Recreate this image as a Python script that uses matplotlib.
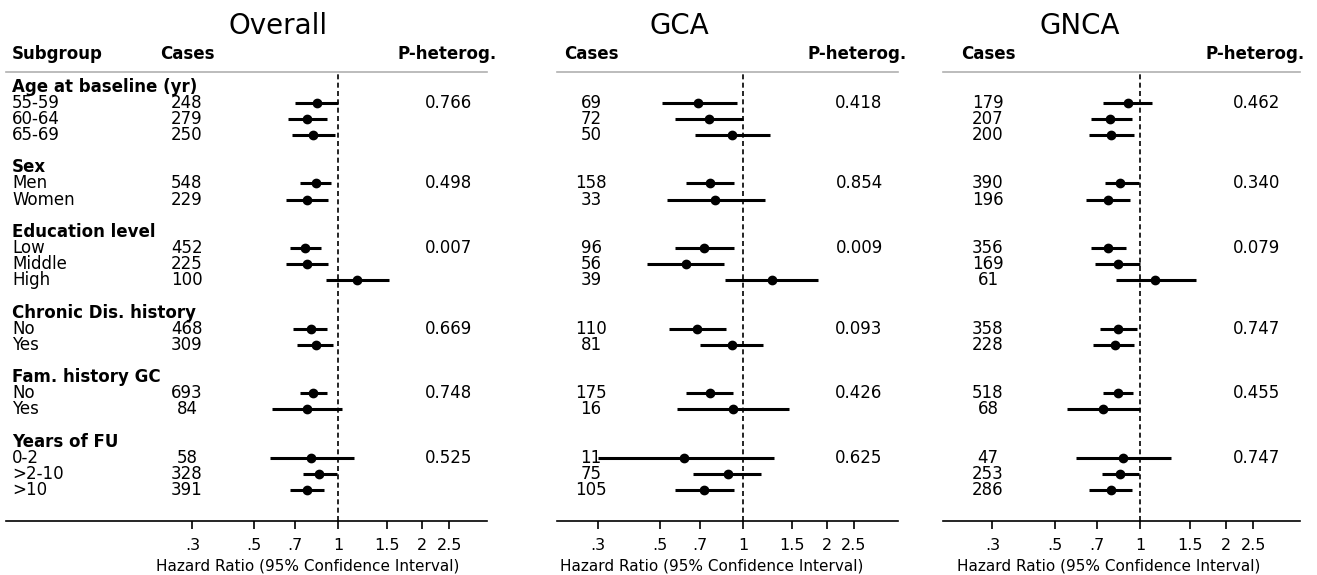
#Forest plots - subgroup hazard ratios (Overall, GCA, GNCA)

import numpy as np
import matplotlib.pyplot as plt
import matplotlib.transforms as mtransforms

group_names = ["Age at baseline (yr)", "Sex", "Education level",
               "Chronic Dis. history", "Fam. history GC", "Years of FU"]
group_levels = [["55-59", "60-64", "65-69"], ["Men", "Women"], ["Low", "Middle", "High"],
                ["No", "Yes"], ["No", "Yes"], ["0-2", ">2-10", ">10"]]

overall_cases = [248, 279, 250, 548, 229, 452, 225, 100, 468, 309, 693, 84, 58, 328, 391]
overall_hr = [0.84, 0.77, 0.81, 0.83, 0.77, 0.76, 0.77, 1.17, 0.80, 0.83, 0.81, 0.77, 0.80, 0.85, 0.77]
overall_lo = [0.70, 0.66, 0.68, 0.73, 0.65, 0.67, 0.65, 0.90, 0.69, 0.71, 0.73, 0.58, 0.57, 0.75, 0.67]
overall_hi = [1.00, 0.91, 0.97, 0.94, 0.92, 0.87, 0.92, 1.52, 0.91, 0.96, 0.91, 1.03, 1.14, 0.99, 0.89]
overall_p = ["0.766", "0.498", "0.007", "0.669", "0.748", "0.525"]

gca_cases = [69, 72, 50, 158, 33, 96, 56, 39, 110, 81, 175, 16, 11, 75, 105]
gca_hr = [0.69, 0.75, 0.91, 0.76, 0.79, 0.72, 0.62, 1.27, 0.68, 0.91, 0.76, 0.92, 0.61, 0.88, 0.72]
gca_lo = [0.51, 0.57, 0.67, 0.62, 0.53, 0.57, 0.45, 0.86, 0.54, 0.70, 0.62, 0.58, 0.30, 0.66, 0.57]
gca_hi = [0.95, 1.00, 1.25, 0.93, 1.20, 0.93, 0.85, 1.86, 0.87, 1.18, 0.92, 1.46, 1.29, 1.16, 0.93]
gca_p = ["0.418", "0.854", "0.009", "0.093", "0.426", "0.625"]

gnca_cases = [179, 207, 200, 390, 196, 356, 169, 61, 358, 228, 518, 68, 47, 253, 286]
gnca_hr = [0.90, 0.78, 0.79, 0.85, 0.77, 0.77, 0.83, 1.13, 0.83, 0.81, 0.83, 0.74, 0.87, 0.85, 0.79]
gnca_lo = [0.74, 0.67, 0.66, 0.75, 0.64, 0.67, 0.69, 0.82, 0.72, 0.68, 0.74, 0.55, 0.59, 0.73, 0.66]
gnca_hi = [1.10, 0.93, 0.95, 0.99, 0.92, 0.89, 1.00, 1.57, 0.97, 0.95, 0.94, 1.00, 1.28, 0.99, 0.93]
gnca_p = ["0.462", "0.340", "0.079", "0.747", "0.455", "0.747"]

panel_titles = ["Overall", "GCA", "GNCA"]
tick_vals = [0.3, 0.5, 0.7, 1, 1.5, 2, 2.5]
tick_labels = [".3", ".5", ".7", "1", "1.5", "2", "2.5"]

# row index of each group header and of each subgroup line
header_rows = []
level_rows = []
r = 0
for levels in group_levels:
    header_rows.append(r)
    for k in range(len(levels)):
        level_rows.append(r + 1 + k)
    r += len(levels) + 2
level_rows = np.array(level_rows)

W, H = 1317, 575
fig = plt.figure(figsize=(W / 100, H / 100), dpi=100)

# panel layout in pixels: axes left/right, x-limits, text columns, title & xlabel centres
panels = [
    dict(x0=6, x1=487, xlim=(0.0645, 3.41), cases_x=187, p_x=449, title_x=278, xlab_x=308,
         cases=overall_cases, hr=overall_hr, lo=overall_lo, hi=overall_hi, p=overall_p),
    dict(x0=557, x1=898, xlim=(0.214, 3.60), cases_x=591, p_x=859, title_x=679, xlab_x=712,
         cases=gca_cases, hr=gca_hr, lo=gca_lo, hi=gca_hi, p=gca_p),
    dict(x0=943, x1=1300, xlim=(0.2007, 3.66), cases_x=988, p_x=1257, title_x=1080, xlab_x=1109,
         cases=gnca_cases, hr=gnca_hr, lo=gnca_lo, hi=gnca_hi, p=gnca_p),
]

y_top, y_bot = 72, 521
row0_px, row_step = 86.7, 16.13
fs = 12

for i, pn in enumerate(panels):
    ax = fig.add_axes([pn["x0"] / W, 1 - y_bot / H, (pn["x1"] - pn["x0"]) / W, (y_bot - y_top) / H])
    ax.set_xscale("log")
    ax.set_xlim(pn["xlim"])
    ax.set_ylim((y_bot - row0_px) / row_step, (y_top - row0_px) / row_step)

    ax.axvline(1, color="black", lw=1.2, ls=(0, (3, 2)), zorder=1)
    ax.hlines(level_rows, pn["lo"], pn["hi"], color="black", lw=2.2, zorder=2)
    ax.plot(pn["hr"], level_rows, "o", color="black", ms=6, zorder=3)

    for s in ["left", "right"]:
        ax.spines[s].set_visible(False)
    ax.spines["top"].set_color("#b0b0b0")
    ax.spines["top"].set_linewidth(1.2)
    ax.spines["bottom"].set_linewidth(1.2)
    ax.set_yticks([])
    ax.set_xticks(tick_vals)
    ax.set_xticklabels(tick_labels, fontsize=11.5)
    ax.xaxis.set_minor_locator(plt.NullLocator())
    ax.tick_params(axis="x", length=6, width=1.2, pad=6)

    tr = mtransforms.blended_transform_factory(fig.transFigure, ax.transData)
    hdr_row = (54 - row0_px) / row_step
    if i == 0:
        ax.text(12 / W, hdr_row, "Subgroup", transform=tr, fontsize=fs, fontweight="bold",
                ha="left", va="center", clip_on=False)
        for g, name in enumerate(group_names):
            ax.text(12 / W, header_rows[g], name, transform=tr, fontsize=fs, fontweight="bold",
                    ha="left", va="center")
        lab = [l for levels in group_levels for l in levels]
        for k, row in enumerate(level_rows):
            ax.text(12 / W, row, lab[k], transform=tr, fontsize=fs, ha="left", va="center")
    ax.text(pn["cases_x"] / W, hdr_row, "Cases", transform=tr, fontsize=fs, fontweight="bold",
            ha="center", va="center", clip_on=False)
    ax.text((pn["p_x"] - 2) / W, hdr_row, "P-heterog.", transform=tr, fontsize=fs,
            fontweight="bold", ha="center", va="center", clip_on=False)
    for k, row in enumerate(level_rows):
        ax.text(pn["cases_x"] / W, row, str(pn["cases"][k]), transform=tr, fontsize=fs,
                ha="center", va="center")
    for g in range(len(group_names)):
        ax.text(pn["p_x"] / W, header_rows[g] + 1, pn["p"][g], transform=tr, fontsize=fs,
                ha="center", va="center")

    fig.text(pn["title_x"] / W, 1 - 26 / H, panel_titles[i], fontsize=20, ha="center", va="center")
    fig.text(pn["xlab_x"] / W, 1 - 566 / H, "Hazard Ratio (95% Confidence Interval)",
             fontsize=11, ha="center", va="center")

fig.savefig("out.png", dpi=100, facecolor="white")
